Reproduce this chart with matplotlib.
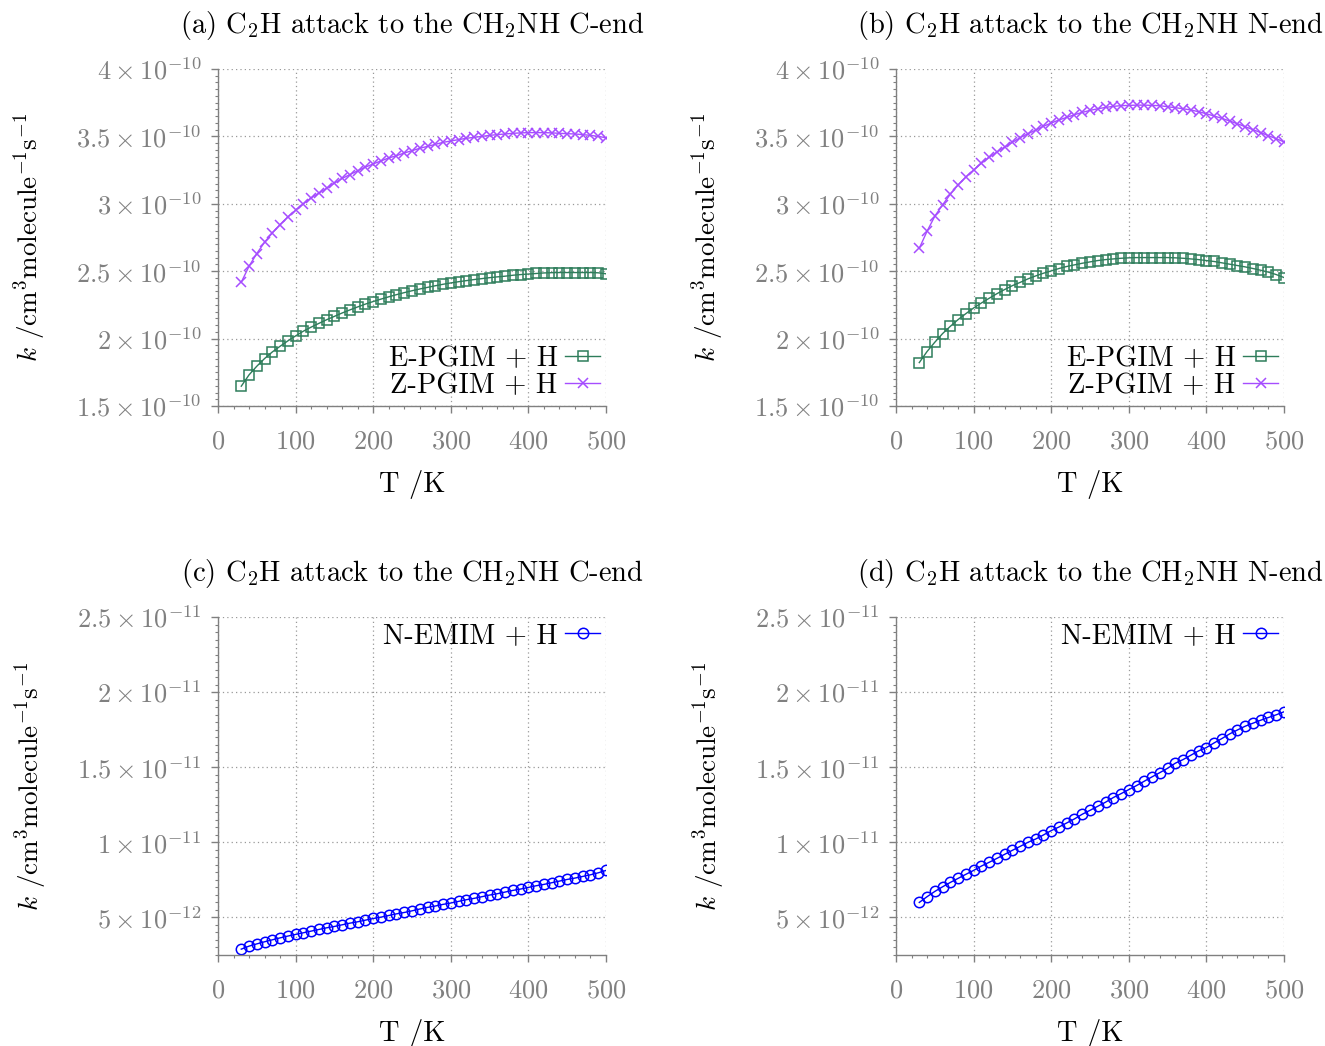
import numpy as np
import matplotlib
matplotlib.use("Agg")
import matplotlib.pyplot as plt
from matplotlib.ticker import MultipleLocator, FixedLocator, FixedFormatter

plt.rcParams['font.family'] = 'serif'
plt.rcParams['font.serif'] = ['cmr10']
plt.rcParams['mathtext.fontset'] = 'cm'
plt.rcParams['axes.unicode_minus'] = False
plt.rcParams['axes.formatter.use_mathtext'] = True

# Temperature grid (K)
T = list(range(30, 501, 10))

# Panel (a): C-end, units of 1e-10
E_a = [1.647, 1.731, 1.795, 1.852, 1.901, 1.943, 1.983, 2.020, 2.055, 2.085,
       2.113, 2.140, 2.165, 2.190, 2.213, 2.235, 2.256, 2.275, 2.293, 2.310,
       2.326, 2.341, 2.355, 2.368, 2.380, 2.392, 2.403, 2.413, 2.422, 2.430,
       2.438, 2.445, 2.452, 2.458, 2.463, 2.470, 2.475, 2.479, 2.483, 2.487,
       2.489, 2.490, 2.490, 2.490, 2.490, 2.490, 2.488, 2.481]
Z_a = [2.418, 2.537, 2.631, 2.715, 2.784, 2.846, 2.903, 2.952, 3.000, 3.044,
       3.079, 3.116, 3.153, 3.188, 3.217, 3.245, 3.272, 3.296, 3.318, 3.340,
       3.357, 3.377, 3.394, 3.412, 3.426, 3.441, 3.456, 3.466, 3.476, 3.486,
       3.493, 3.500, 3.508, 3.513, 3.518, 3.523, 3.526, 3.528, 3.528, 3.528,
       3.526, 3.523, 3.520, 3.518, 3.513, 3.508, 3.500, 3.490]

# Panel (b): N-end, units of 1e-10
E_b = [1.822, 1.904, 1.973, 2.037, 2.091, 2.141, 2.185, 2.227, 2.264, 2.299,
       2.333, 2.364, 2.393, 2.417, 2.443, 2.465, 2.485, 2.502, 2.520, 2.535,
       2.547, 2.559, 2.569, 2.579, 2.586, 2.591, 2.596, 2.599, 2.601, 2.601,
       2.601, 2.601, 2.601, 2.599, 2.596, 2.591, 2.586, 2.579, 2.572, 2.562,
       2.552, 2.542, 2.532, 2.520, 2.507, 2.493, 2.475, 2.453]
Z_b = [2.670, 2.796, 2.908, 2.992, 3.071, 3.140, 3.199, 3.251, 3.300, 3.345,
       3.384, 3.421, 3.456, 3.491, 3.520, 3.547, 3.575, 3.599, 3.622, 3.641,
       3.661, 3.678, 3.693, 3.705, 3.715, 3.723, 3.728, 3.730, 3.732, 3.732,
       3.730, 3.728, 3.720, 3.713, 3.705, 3.696, 3.683, 3.668, 3.651, 3.634,
       3.614, 3.594, 3.572, 3.550, 3.528, 3.505, 3.483, 3.459]

# Panel (c): C-end, units of 1e-12
N_c = [2.89, 3.09, 3.24, 3.38, 3.51, 3.64, 3.76, 3.87, 3.98, 4.09,
       4.20, 4.31, 4.40, 4.51, 4.62, 4.71, 4.82, 4.93, 5.02, 5.13,
       5.24, 5.33, 5.44, 5.56, 5.67, 5.76, 5.87, 5.96, 6.07, 6.18,
       6.27, 6.38, 6.49, 6.58, 6.69, 6.80, 6.89, 7.00, 7.11, 7.20,
       7.31, 7.42, 7.53, 7.62, 7.73, 7.84, 7.97, 8.13]

# Panel (d): N-end, units of 1e-12
N_d = [6.00, 6.38, 6.73, 7.04, 7.33, 7.60, 7.87, 8.13, 8.42, 8.67,
       8.93, 9.20, 9.47, 9.73, 10.00, 10.22, 10.49, 10.78, 11.02, 11.29,
       11.56, 11.87, 12.13, 12.40, 12.67, 12.98, 13.24, 13.51, 13.78, 14.07,
       14.36, 14.64, 14.93, 15.27, 15.51, 15.80, 16.09, 16.31, 16.62, 16.91,
       17.22, 17.48, 17.73, 17.93, 18.13, 18.31, 18.49, 18.69]

titles = [r"(a) C$_2$H attack to the CH$_2$NH C-end",
          r"(b) C$_2$H attack to the CH$_2$NH N-end",
          r"(c) C$_2$H attack to the CH$_2$NH C-end",
          r"(d) C$_2$H attack to the CH$_2$NH N-end"]

ytick_top = [1.5e-10, 2e-10, 2.5e-10, 3e-10, 3.5e-10, 4e-10]
ytick_top_labels = [r"$1.5\times10^{-10}$", r"$2\times10^{-10}$", r"$2.5\times10^{-10}$",
                    r"$3\times10^{-10}$", r"$3.5\times10^{-10}$", r"$4\times10^{-10}$"]
ytick_bot = [5e-12, 1e-11, 1.5e-11, 2e-11, 2.5e-11]
ytick_bot_labels = [r"$5\times10^{-12}$", r"$1\times10^{-11}$", r"$1.5\times10^{-11}$",
                    r"$2\times10^{-11}$", r"$2.5\times10^{-11}$"]
xticks = [0, 100, 200, 300, 400, 500]

labels_top = ["E-PGIM + H", "Z-PGIM + H"]
label_bot = "N-EMIM + H"

W, H = 1325, 1046
fig = plt.figure(figsize=(W / 100, H / 100), dpi=100)

def ax_at(l, r, t, b):
    return fig.add_axes([l / W, 1 - b / H, (r - l) / W, (b - t) / H])

axes = [ax_at(218, 606, 69, 406), ax_at(896, 1284, 69, 406),
        ax_at(218, 606, 617, 955), ax_at(896, 1284, 617, 955)]

grey = '#808080'
green = '#2e7d5b'
purple = '#a64dff'
blue = '#0000ff'
FS = 20.5
LFS = 20.5
YFS = 19.5
TFS = 19

Tarr = np.array(T)
for i, ax in enumerate(axes):
    if i < 2:
        E = np.array(E_a if i == 0 else E_b) * 1e-10
        Z = np.array(Z_a if i == 0 else Z_b) * 1e-10
        ax.plot(Tarr, E, color=green, lw=1.0, marker='s', ms=7, mfc='none',
                mew=1.1, label=labels_top[0])
        ax.plot(Tarr, Z, color=purple, lw=1.0, marker='x', ms=7, mew=1.1,
                label=labels_top[1])
        ax.set_ylim(1.5e-10, 4e-10)
        ax.yaxis.set_major_locator(FixedLocator(ytick_top))
        ax.yaxis.set_major_formatter(FixedFormatter(ytick_top_labels))
        ax.yaxis.set_minor_locator(MultipleLocator(0.05e-10))
        leg = ax.legend(loc='lower right', bbox_to_anchor=(1.0, 0.005), frameon=False,
                        markerfirst=False, fontsize=LFS, handlelength=1.25,
                        handletextpad=0.25, labelspacing=0.0, borderaxespad=0.0,
                        borderpad=0.2)
    else:
        N = np.array(N_c if i == 2 else N_d) * 1e-12
        ax.plot(Tarr, N, color=blue, lw=1.0, marker='o', ms=7.5, mfc='none',
                mew=1.1, label=label_bot)
        ax.set_ylim(2.5e-12, 2.5e-11)
        ax.yaxis.set_major_locator(FixedLocator(ytick_bot))
        ax.yaxis.set_major_formatter(FixedFormatter(ytick_bot_labels))
        ax.yaxis.set_minor_locator(MultipleLocator(0.5e-12))
        leg = ax.legend(loc='upper right', bbox_to_anchor=(1.0, 1.0), frameon=False,
                        markerfirst=False, fontsize=LFS, handlelength=1.25,
                        handletextpad=0.25, borderaxespad=0.0, borderpad=0.2)
    for t in leg.get_texts():
        t.set_ha('right')
    ax.set_xlim(0, 500)
    ax.xaxis.set_major_locator(FixedLocator(xticks))
    ax.xaxis.set_minor_locator(MultipleLocator(20))
    ax.grid(True, which='major', ls=(0, (1, 2.5)), color='#999999', lw=0.9)
    ax.set_axisbelow(True)
    for s in ['top', 'right']:
        ax.spines[s].set_visible(False)
    for s in ['left', 'bottom']:
        ax.spines[s].set_color(grey)
        ax.spines[s].set_linewidth(1.0)
    ax.tick_params(which='major', direction='out', length=5, width=1.0,
                   colors=grey, labelsize=TFS, labelcolor=grey)
    ax.tick_params(axis='y', which='major', pad=7)
    ax.tick_params(axis='x', which='major', pad=12)
    ax.tick_params(which='minor', direction='out', length=2.5, width=0.8, colors=grey)
    ax.set_title(titles[i], fontsize=FS, pad=26)
    ax.set_xlabel("T /K", fontsize=FS, labelpad=12)
    ax.set_ylabel(r"$k$ /cm$^3$molecule$^{-1}$s$^{-1}$", fontsize=YFS, labelpad=20)

fig.savefig("out.png", dpi=100)
